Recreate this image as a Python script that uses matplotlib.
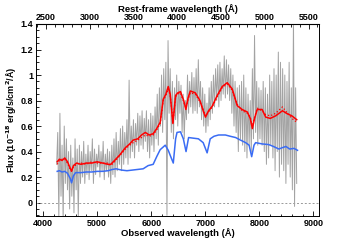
import matplotlib
matplotlib.use("Agg")
import matplotlib.pyplot as plt
import numpy as np
from matplotlib.ticker import MultipleLocator, FixedLocator, FuncFormatter

plt.rcParams['font.family'] = ['Liberation Sans', 'DejaVu Sans']

z = 0.62

# observed spectrum, one value every 20 A from 4250 A
obs_start, obs_step = 4250, 20
obs_flux = [
    0.30, 0.55, -0.12, 0.70, 0.05, 0.45, -0.15, 0.60, 0.15, 0.50,
    0.10, 0.40, -0.05, 0.45, 0.05, 0.35, -0.08, 0.50, 0.10, 0.42,
    -0.12, 0.45, 0.15, 0.40, 0.20, 0.48, 0.15, 0.38, 0.22, 0.45,
    0.18, 0.40, 0.25, 0.50, 0.15, 0.42, 0.22, 0.38, 0.28, 0.45,
    0.20, 0.40, 0.25, 0.48, 0.18, 0.38, 0.25, 0.42, 0.20, 0.40,
    0.15, 0.45, 0.22, 0.50, 0.20, 0.55, 0.25, 0.48, 0.30, 0.58,
    0.25, 0.60, 0.30, 0.55, 0.35, 0.65, 0.30, 0.96, 0.35, 0.60,
    0.40, 0.65, 0.35, 0.62, 0.45, 0.70, 0.40, 0.68, 0.45, 0.72,
    0.42, 0.66, 0.48, 0.72, 0.40, 0.65, 0.35, 0.70, 0.45, 0.68,
    0.40, 0.75, 0.50, 0.85, 0.45, 0.90, 0.60, 1.00, 0.55, 1.05,
    0.65, 1.10, -0.10, 1.27, 0.70, 1.05, 0.55, 0.95, 0.50, 0.90,
    0.65, 1.00, 0.60, 0.95, 0.70, 0.92, 0.55, 0.85, 0.50, 0.80,
    0.65, 1.00, 0.70, 0.95, 0.75, 1.02, 0.70, 0.98, 0.72, 1.05,
    0.70, 1.12, 0.75, 0.95, 0.65, 0.90, 0.60, 0.85, 0.55, 0.78,
    0.60, 0.90, 0.65, 0.95, 0.70, 1.00, 0.75, 1.05, 0.80, 1.08,
    0.75, 1.10, 0.80, 1.05, 0.85, 1.15, 0.82, 1.12, 0.85, 1.08,
    0.80, 1.05, 0.70, 1.00, 0.60, 0.95, 0.55, 0.90, 0.40, 0.92,
    0.50, 0.95, 0.45, 1.00, 0.40, 0.90, 0.35, 0.85, 0.45, 0.80,
    0.40, 1.05, 0.50, 1.31, 0.55, 0.95, 0.45, 0.90, 0.50, 0.88,
    0.45, 0.95, 0.40, 0.90, 0.30, 0.85, 0.35, 1.00, 0.45, 0.95,
    0.35, 1.05, 0.25, 1.00, 0.40, 1.18, 0.20, 1.10, 0.30, 1.05,
    0.25, 1.00, 0.15, 0.95, 0.30, 1.10, 0.20, 0.90, 0.10, 1.45,
    -0.03, 0.90, 0.15,
]
obs_wave = obs_start + obs_step * np.arange(len(obs_flux))

# best-fit model (red) and its alternative (red dotted)
red_wave = [4260, 4300, 4350, 4400, 4450, 4500, 4525, 4560, 4620, 4700,
            4800, 4900, 5000, 5100, 5200, 5250, 5320, 5420, 5520, 5600,
            5665, 5750, 5820, 5890, 5960, 6035, 6100, 6165, 6221, 6270,
            6314, 6350, 6400, 6450, 6490, 6540, 6600, 6640, 6680, 6723,
            6816, 6900, 6960, 7002, 7060, 7126, 7220, 7312, 7405, 7498,
            7590, 7680, 7777, 7830, 7870, 7910, 7960, 8050, 8117, 8200,
            8300, 8427, 8500, 8600, 8690]
red_flux = [0.32, 0.34, 0.33, 0.35, 0.32, 0.27, 0.245, 0.29, 0.31, 0.30,
            0.31, 0.31, 0.32, 0.31, 0.30, 0.30, 0.33, 0.375, 0.43, 0.46,
            0.49, 0.50, 0.53, 0.55, 0.53, 0.54, 0.58, 0.63, 0.81, 0.85,
            0.91, 0.85, 0.62, 0.84, 0.86, 0.87, 0.80, 0.73, 0.82, 0.875,
            0.86, 0.80, 0.72, 0.67, 0.72, 0.755, 0.84, 0.91, 0.94, 0.89,
            0.76, 0.73, 0.71, 0.66, 0.58, 0.66, 0.73, 0.73, 0.67, 0.66,
            0.68, 0.72, 0.70, 0.68, 0.65]
red_alt = [0.30, 0.33, 0.34, 0.34, 0.31, 0.26, 0.25, 0.28, 0.30, 0.31,
           0.30, 0.32, 0.31, 0.31, 0.31, 0.29, 0.32, 0.37, 0.42, 0.45,
           0.47, 0.49, 0.51, 0.53, 0.52, 0.53, 0.57, 0.62, 0.80, 0.84,
           0.89, 0.84, 0.63, 0.83, 0.85, 0.86, 0.79, 0.74, 0.81, 0.86,
           0.85, 0.79, 0.73, 0.68, 0.71, 0.75, 0.83, 0.90, 0.93, 0.88,
           0.77, 0.72, 0.70, 0.67, 0.60, 0.67, 0.74, 0.72, 0.69, 0.68,
           0.70, 0.75, 0.71, 0.66, 0.63]

# second component (blue)
blue_wave = [4260, 4300, 4350, 4400, 4450, 4500, 4525, 4560, 4600, 4700,
             4800, 4900, 5000, 5100, 5200, 5280, 5350, 5450, 5550, 5650,
             5750, 5850, 5942, 6035, 6100, 6165, 6258, 6314, 6360, 6407,
             6450, 6476, 6540, 6593, 6643, 6690, 6780, 6872, 6960, 7033,
             7090, 7160, 7245, 7370, 7460, 7560, 7650, 7745, 7810, 7857,
             7900, 7930, 8050, 8170, 8260, 8360, 8420, 8490, 8560, 8640,
             8705]
blue_flux = [0.245, 0.25, 0.24, 0.245, 0.23, 0.19, 0.155, 0.21, 0.235, 0.235,
             0.24, 0.24, 0.245, 0.245, 0.25, 0.26, 0.265, 0.255, 0.25, 0.255,
             0.26, 0.265, 0.29, 0.30, 0.36, 0.415, 0.45, 0.41, 0.36, 0.31,
             0.50, 0.55, 0.555, 0.50, 0.40, 0.51, 0.505, 0.50, 0.47, 0.39,
             0.50, 0.52, 0.53, 0.53, 0.52, 0.51, 0.49, 0.47, 0.45, 0.36,
             0.45, 0.47, 0.46, 0.455, 0.44, 0.42, 0.43, 0.44, 0.42, 0.425,
             0.41]

rest_ticks = [2500, 3000, 3500, 4000, 4500, 5000, 5500]

fig = plt.figure(figsize=(3.55, 2.4), dpi=100)
ax = fig.add_axes([0.101, 0.1, 0.798, 0.8])

ax.axhline(0, color='#999999', lw=0.7, ls=(0, (2, 2)))
ax.plot(obs_wave, obs_flux, color='#a3a3a3', lw=0.7)
ax.plot(red_wave, red_alt, color='red', lw=0.9, ls=':')
ax.plot(red_wave, red_flux, color='red', lw=1.1)
ax.plot(blue_wave, blue_flux, color='#3a6cf4', lw=1.1)

ax.set_xlim(3865, 9105)
ax.set_ylim(-0.105, 1.4)

ax.xaxis.set_major_locator(MultipleLocator(1000))
ax.xaxis.set_minor_locator(MultipleLocator(200))
ax.yaxis.set_major_locator(MultipleLocator(0.2))
ax.yaxis.set_minor_locator(MultipleLocator(0.05))
ax.yaxis.set_major_formatter(FuncFormatter(lambda v, p: '%g' % round(v, 2)))
ax.tick_params(which='both', direction='in', labelsize=6.5, width=0.6, pad=2,
               top=False, right=False)
ax.tick_params(which='major', length=3.5)
ax.tick_params(which='minor', length=1.8)
for lab in ax.get_xticklabels() + ax.get_yticklabels():
    lab.set_fontweight('bold')
for s in ax.spines.values():
    s.set_linewidth(0.7)

ax.set_xlabel('Observed wavelength (Å)', fontsize=6.8, fontweight='bold', labelpad=0.5)
ax.set_ylabel('Flux (10$^{\\mathbf{-18}}$ erg/s/cm$^{\\mathbf{2}}$/Å)', fontsize=6.5,
              fontweight='bold', labelpad=1)

top = ax.secondary_xaxis('top', functions=(lambda x: x / (1 + z), lambda x: x * (1 + z)))
top.xaxis.set_major_locator(FixedLocator(rest_ticks))
top.xaxis.set_minor_locator(FixedLocator(list(range(2400, 5700, 100))))
top.tick_params(which='both', direction='in', labelsize=6.5, width=0.6, pad=1.5)
top.tick_params(which='major', length=3.5)
top.tick_params(which='minor', length=1.8)
for lab in top.get_xticklabels():
    lab.set_fontweight('bold')
top.set_xlabel('Rest-frame wavelength (Å)', fontsize=6.8, fontweight='bold', labelpad=1)

fig.savefig('out.png', dpi=100)
